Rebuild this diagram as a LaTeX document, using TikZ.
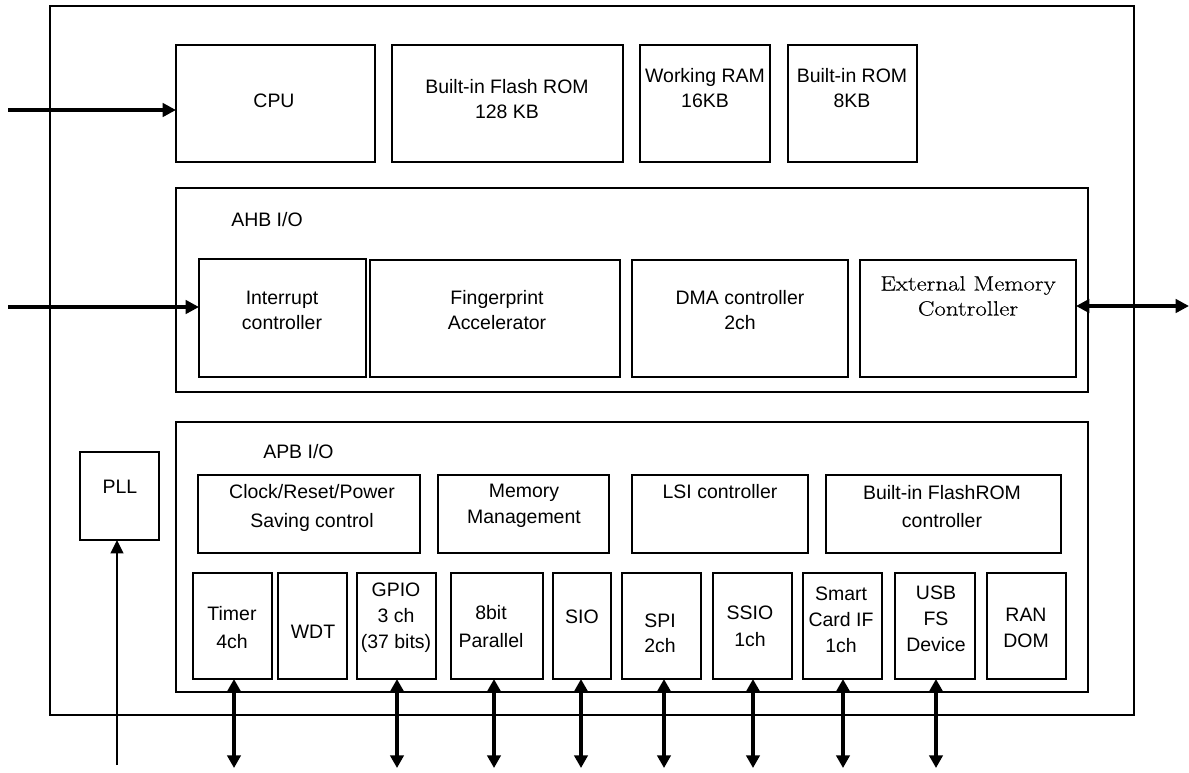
\documentclass[tikz,border=0pt]{standalone}
\usepackage{fontspec}
\setmainfont{Liberation Sans}
\newfontfamily\lmrstretch[FakeStretch=1.2,FakeBold=0.4]{Latin Modern Roman}
\usetikzlibrary{arrows.meta}
\tikzset{
  box/.style={draw, rectangle, line width=0.9pt, inner sep=0pt, outer sep=0pt},
  txt/.style={inner sep=0pt, align=center, font=\fontsize{14.6pt}{19.5pt}\selectfont},
  thickarrow/.style={line width=2.8pt, -{Triangle[length=10pt,width=10pt]}},
  thinarrow/.style={line width=1.2pt, -{Triangle[length=10pt,width=9.5pt]}},
  bidirh/.style={line width=2.8pt, {Triangle[length=10pt,width=10pt]}-{Triangle[length=10pt,width=10pt]}},
  bidir/.style={line width=2.3pt, {Triangle[length=9.5pt,width=10pt]}-{Triangle[length=9.5pt,width=10pt]}}
}
\newcommand\blk[5]{\node[box, minimum width={(#4-#2)*0.75pt}, minimum height={(#5-#3)*0.75pt}] (#1) at ({(#2+#4)/2},{(#3+#5)/2}) {};}
\begin{document}
\begin{tikzpicture}[x=0.75pt,y=-0.75pt]
\useasboundingbox (0,0) rectangle (1189,772);
% outer chip boundary
\blk{outer}{50}{6}{1134}{715}
% top row
\blk{cpu}{176}{45}{375}{162}
\blk{flash}{392}{45}{623}{162}
\blk{wram}{640}{45}{770}{162}
\blk{brom}{788}{45}{917}{162}
\node[txt] (cpuT) at (274,101) {CPU};
\node[txt, font=\fontsize{14.6pt}{18.75pt}\selectfont] (flashT) at (507,99.5) {Built-in Flash ROM\\128 KB};
\node[txt, font=\fontsize{14.6pt}{18.75pt}\selectfont] (wramT) at (705,88) {Working RAM\\16KB};
\node[txt, font=\fontsize{14.6pt}{18.75pt}\selectfont] (bromT) at (852,88) {Built-in ROM\\8KB};
% AHB
\blk{ahb}{176}{188}{1088}{392}
\node[txt, anchor=west] (ahbT) at (231,220) {AHB I/O};
\blk{intc}{199}{259}{366}{377}
\blk{fpa}{370}{260}{620}{377}
\blk{dma}{632}{260}{848}{377}
\blk{emc}{860}{260}{1076}{377}
\node[txt, font=\fontsize{14.6pt}{18.75pt}\selectfont] (intcT) at (282,310) {Interrupt\\controller};
\node[txt, font=\fontsize{14.6pt}{18.75pt}\selectfont] (fpaT) at (497,310) {Fingerprint\\Accelerator};
\node[txt, font=\fontsize{14.6pt}{18.75pt}\selectfont] (dmaT) at (740,310) {DMA controller\\2ch};
\node[txt, font=\lmrstretch\fontsize{15.5pt}{18.75pt}\selectfont] (emcT) at (968,296) {External Memory\\Controller};
% APB
\blk{apb}{176}{422}{1088}{692}
\node[txt, anchor=west] (apbT) at (263,452) {APB I/O};
\blk{pll}{80}{452}{159}{540}
\node[txt] (pllT) at (120,487) {PLL};
\blk{crp}{198}{475}{420}{553}
\blk{mm}{438}{475}{609}{553}
\blk{lsi}{632}{475}{808}{553}
\blk{frc}{826}{475}{1061}{553}
\node[txt, font=\fontsize{14.6pt}{21.75pt}\selectfont] (crpT) at (312,507.5) {Clock/Reset/Power\\Saving control};
\node[txt] (mmT) at (524,506) {Memory\\Management};
\node[txt] (lsiT) at (720,492) {LSI controller};
\node[txt, font=\fontsize{14.6pt}{21pt}\selectfont] (frcT) at (942,507) {Built-in FlashROM\\controller};
% bottom row
\blk{tmr}{193}{573}{272}{679}
\blk{wdt}{278}{573}{347}{679}
\blk{gpio}{357}{573}{436}{679}
\blk{par}{451}{573}{543}{679}
\blk{sio}{553}{573}{611}{679}
\blk{spi}{622}{573}{701}{679}
\blk{ssio}{713}{573}{792}{679}
\blk{scif}{803}{573}{882}{679}
\blk{usb}{895}{573}{975}{679}
\blk{rnd}{987}{573}{1066}{679}
\node[txt, font=\fontsize{14.6pt}{21.5pt}\selectfont] (tmrT) at (232,627.5) {Timer\\4ch};
\node[txt] (wdtT) at (313,632) {WDT};
\node[txt] (gpioT) at (396,618) {GPIO\\3 ch\\(37 bits)};
\node[txt, font=\fontsize{14.6pt}{21pt}\selectfont] (parT) at (491,627) {8bit\\Parallel};
\node[txt] (sioT) at (582,617) {SIO};
\node[txt, font=\fontsize{14.6pt}{18.75pt}\selectfont] (spiT) at (660,633.5) {SPI\\2ch};
\node[txt, font=\fontsize{14.6pt}{20pt}\selectfont] (ssioT) at (750,626.5) {SSIO\\1ch};
\node[txt] (scifT) at (841,620) {Smart\\Card IF\\1ch};
\node[txt] (usbT) at (936,618.5) {USB\\FS\\Device};
\node[txt] (rndT) at (1026,628) {RAN\\DOM};
% external ends
\coordinate (cpuIn) at (8,110);
\coordinate (intIn) at (8,307);
\coordinate (emcOut) at (1189,306);
\coordinate (pllIn) at (117,765);
\coordinate (pinrow) at (0,768);
% connectors
\draw[thickarrow] (cpuIn) -- (cpuIn -| cpu.west);
\draw[thickarrow] (intIn) -- (intIn -| intc.west);
\draw[bidirh] (emcOut -| emc.east) -- (emcOut);
\draw[thinarrow] (pllIn) -- (pllIn |- pll.south);
\foreach \n/\dx in {tmr/1.5, gpio/0.5, par/-3, sio/-1, spi/2.5, ssio/0.5, scif/0.5, usb/1}{
  \draw[bidir] ([xshift=\dx*0.75pt]\n.south) -- ([xshift=\dx*0.75pt]\n.south |- pinrow);
}
\end{tikzpicture}
\end{document}
